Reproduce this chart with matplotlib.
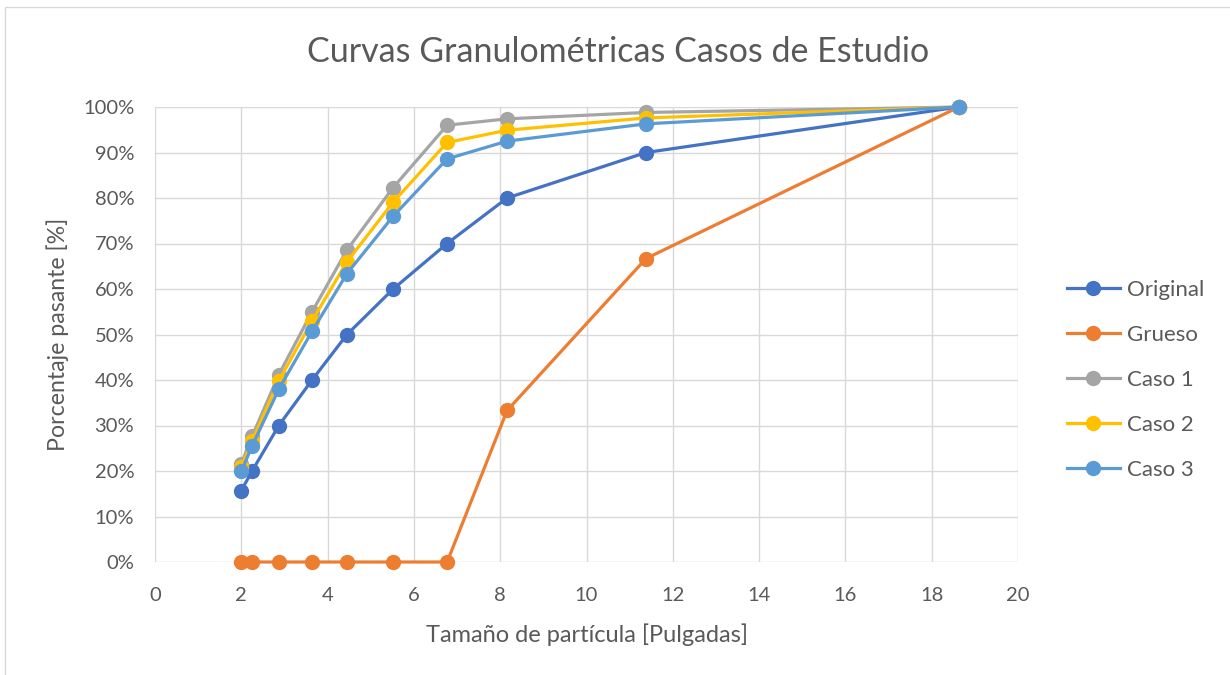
import matplotlib
matplotlib.use("Agg")
import matplotlib.pyplot as plt
from matplotlib.patches import Rectangle
from matplotlib.ticker import FuncFormatter, MultipleLocator

plt.rcParams['font.family'] = ['Lato', 'DejaVu Sans']

tamano = [2.0, 2.25, 2.87, 3.64, 4.45, 5.52, 6.77, 8.16, 11.38, 18.63]
original = [15.7, 20.0, 30.0, 40.0, 50.0, 60.0, 70.0, 80.0, 90.0, 100.0]
grueso = [0, 0, 0, 0, 0, 0, 0, 33.3, 66.7, 100.0]
caso1 = [21.6, 27.6, 41.2, 55.0, 68.6, 82.3, 96.0, 97.4, 98.8, 100.0]
caso2 = [20.8, 26.6, 39.8, 53.0, 66.0, 79.1, 92.2, 94.9, 97.6, 100.0]
caso3 = [19.9, 25.5, 38.0, 50.7, 63.4, 76.0, 88.6, 92.5, 96.3, 100.0]

series = [("Original", original, "#4472C4"),
          ("Grueso", grueso, "#ED7D31"),
          ("Caso 1", caso1, "#A5A5A5"),
          ("Caso 2", caso2, "#FFC000"),
          ("Caso 3", caso3, "#5B9BD5")]

txt = "#595959"
fig = plt.figure(figsize=(12.3, 6.75), dpi=100)
fig.patches.append(Rectangle((5/1230, -0.1), 1.2, 1.0 + 0.1 - 7/675,
                             transform=fig.transFigure, fill=False,
                             edgecolor="#d9d9d9", linewidth=1.0))
ax = fig.add_axes([155/1230, 1 - 562/675, (1018-155)/1230, (562-107)/675])

for name, vals, col in series:
    ax.plot(tamano, vals, color=col, linewidth=2.3, marker='o',
            markersize=10, label=name, clip_on=False, zorder=3)

ax.set_xlim(0, 20)
ax.set_ylim(0, 100)
ax.xaxis.set_major_locator(MultipleLocator(2))
ax.yaxis.set_major_locator(MultipleLocator(10))
ax.yaxis.set_major_formatter(FuncFormatter(lambda v, p: f"{int(round(v))}%"))
ax.grid(True, color="#d9d9d9", linewidth=1.0, zorder=0)
ax.set_axisbelow(True)
for s in ax.spines.values():
    s.set_visible(False)
ax.tick_params(length=0, labelsize=14.5, colors=txt)
ax.tick_params(axis='x', pad=18)
ax.tick_params(axis='y', pad=15)

ax.set_xlabel("Tamaño de partícula [Pulgadas]", fontsize=17, color=txt, labelpad=14)
ax.set_ylabel("Porcentaje pasante [%]", fontsize=16.7, color=txt, labelpad=10)
fig.text(618/1230, 1 - 52/675, "Curvas Granulométricas Casos de Estudio",
         ha='center', va='center', fontsize=24.5, color=txt)

leg = ax.legend(loc='center left', bbox_to_anchor=(1.046, 0.4), frameon=False,
                fontsize=16, labelspacing=1.13, handlelength=2.4,
                handletextpad=0.3, borderaxespad=0)
for t in leg.get_texts():
    t.set_color(txt)

fig.savefig("out.png", dpi=100)
